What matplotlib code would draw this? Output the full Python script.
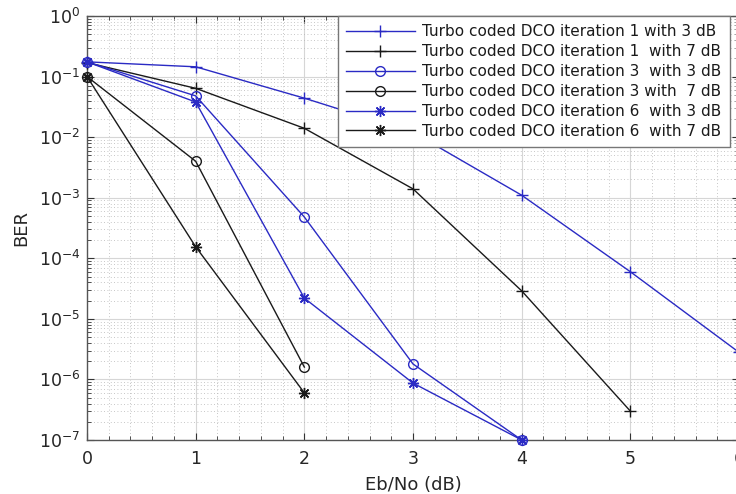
import matplotlib
matplotlib.use("Agg")
import matplotlib.pyplot as plt
from matplotlib.ticker import MultipleLocator, LogLocator, NullFormatter, FixedLocator

plt.rcParams['font.family'] = ['DejaVu Sans']
plt.rcParams['mathtext.default'] = 'regular'

ebno = [0, 1, 2, 3, 4, 5, 6]
it1_3db = [0.175, 0.145, 0.044, 0.012, 1.1e-3, 6e-5, 2.8e-6]
it1_7db = [0.17, 0.064, 0.014, 1.4e-3, 2.9e-5, 3e-7]
it3_3db = [0.175, 0.048, 4.8e-4, 1.8e-6, 1e-7]
it3_7db = [0.1, 4e-3, 1.6e-6]
it6_3db = [0.175, 0.038, 2.2e-5, 8.7e-7, 1e-7]
it6_7db = [0.1, 1.55e-4, 6e-7]

labels = [
    "Turbo coded DCO iteration 1 with 3 dB",
    "Turbo coded DCO iteration 1  with 7 dB",
    "Turbo coded DCO iteration 3  with 3 dB",
    "Turbo coded DCO iteration 3 with  7 dB",
    "Turbo coded DCO iteration 6  with 3 dB",
    "Turbo coded DCO iteration 6  with 7 dB",
]
ytick_vals = [1e-7, 1e-6, 1e-5, 1e-4, 1e-3, 1e-2, 1e-1, 1e0]
ytick_labels = ["$10^{-7}$", "$10^{-6}$", "$10^{-5}$", "$10^{-4}$",
                "$10^{-3}$", "$10^{-2}$", "$10^{-1}$", "$10^{0}$"]

BLUE = '#2a2ac4'
BLACK = '#1a1a1a'
aster = (8, 2, 0)

W, H = 736, 494
fig = plt.figure(figsize=(W / 100, H / 100), dpi=100)
left, right, top, bottom = 87, 739, 16, 440
ax = fig.add_axes([left / W, (H - bottom) / H, (right - left) / W, (bottom - top) / H])

series = [
    (it1_3db, BLUE, '+', 8, 'full'),
    (it1_7db, BLACK, '+', 8, 'full'),
    (it3_3db, BLUE, 'o', 7, 'none'),
    (it3_7db, BLACK, 'o', 7, 'none'),
    (it6_3db, BLUE, aster, 8, 'full'),
    (it6_7db, BLACK, aster, 8, 'full'),
]
for (vals, col, mk, ms, fs), lab in zip(series, labels):
    ax.semilogy(ebno[:len(vals)], vals, color=col, marker=mk, markersize=ms,
                fillstyle=fs, markeredgewidth=1.0, linewidth=1.0, label=lab,
                clip_on=False, zorder=3)

ax.set_xlim(0, 6)
ax.set_ylim(1e-7, 1e0)
ax.xaxis.set_major_locator(MultipleLocator(1))
ax.xaxis.set_minor_locator(MultipleLocator(0.2))
ax.yaxis.set_major_locator(FixedLocator(ytick_vals))
ax.set_yticklabels(ytick_labels)
ax.yaxis.set_minor_locator(LogLocator(base=10, subs=range(2, 10), numticks=20))
ax.yaxis.set_minor_formatter(NullFormatter())

ax.grid(True, which='major', color='#d6d6d6', linewidth=0.8, linestyle='-')
ax.grid(True, which='minor', color='#b4b4b4', linewidth=0.6, linestyle=(0, (1, 3)))
ax.set_axisbelow(True)

ax.tick_params(which='both', direction='in', top=True, right=True, colors='#333333',
               labelcolor='#262626', labelsize=12.5)
ax.tick_params(which='major', length=5)
ax.tick_params(which='minor', length=3)
ax.tick_params(axis='x', which='major', pad=7)
ax.tick_params(axis='y', which='major', pad=5)
for s in ax.spines.values():
    s.set_color('#555555')
    s.set_linewidth(1.0)

ax.set_xlabel("Eb/No (dB)", fontsize=13, color='#262626', labelpad=6)
ax.set_ylabel("BER", fontsize=13, color='#262626', labelpad=6)

leg = ax.legend(loc='upper right', bbox_to_anchor=(730 / W, 1 - 16 / H),
                bbox_transform=fig.transFigure, borderaxespad=0, fontsize=11,
                handlelength=4.5, handletextpad=0.5, labelspacing=0.32,
                fancybox=False, framealpha=1, edgecolor='#777777',
                borderpad=0.55)
leg.get_frame().set_linewidth(1.0)
for t in leg.get_texts():
    t.set_color('#1a1a1a')

fig.savefig("out.png", dpi=100)
